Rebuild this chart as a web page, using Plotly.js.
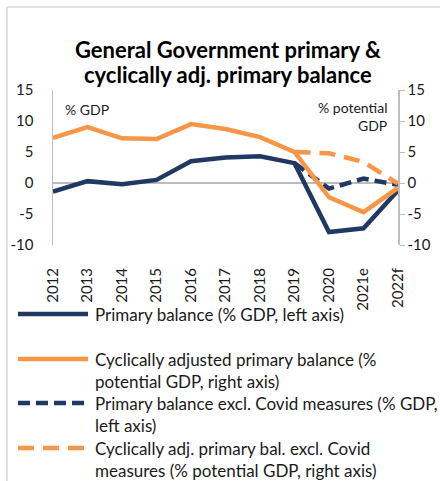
<!DOCTYPE html>
<html><head><meta charset="utf-8">
<script src="https://cdn.plot.ly/plotly-3.0.1.min.js"></script>
<style>html,body{margin:0;padding:0;background:#fff;overflow:hidden}#chart{width:440px;height:481px}</style>
</head><body><div id="chart"></div>
<script>
const years = ['2012','2013','2014','2015','2016','2017','2018','2019','2020','2021e','2022f'];
const primaryBalance = [-1.4, 0.3, -0.2, 0.5, 3.5, 4.1, 4.3, 3.2, -7.9, -7.3, -1.2];
const cycAdjPrimary = [7.3, 9.0, 7.2, 7.1, 9.5, 8.7, 7.4, 5.0, -2.3, -4.7, -0.8];
const primaryExclCovid = [null, null, null, null, null, null, null, 3.2, -0.9, 0.7, -0.3];
const cycAdjExclCovid = [null, null, null, null, null, null, null, 5.0, 4.8, 3.4, -0.1];
const yTickVals = [-10, -5, 0, 5, 10, 15];
const yTickText = ['-10', '-5', '0', '5', '10', '15'];
const titleLines = ['General Government primary &', 'cyclically adj. primary balance'];
const seriesNames = [
  ['Primary balance (% GDP, left axis)'],
  ['Cyclically adjusted primary balance (%', 'potential GDP, right axis)'],
  ['Primary balance excl. Covid measures (% GDP,', 'left axis)'],
  ['Cyclically adj. primary bal. excl. Covid', 'measures (% potential GDP, right axis)']
];

const NAVY = '#203864', ORANGE = '#F79646';
const FONT = 'Lato, "Open Sans", sans-serif';
const TXT = '#1a1a1a';
const W = 440, H = 481, ML = 53, MR = 42, MT = 90, MB = 236;
const PW = W - ML - MR, PH = H - MT - MB;
const px = x => (x - ML) / PW;
const py = y => (H - MB - y) / PH;

const traces = [
  {x: years, y: primaryBalance, type: 'scatter', mode: 'lines', yaxis: 'y', line: {color: NAVY, width: 4.5}, showlegend: false},
  {x: years, y: cycAdjPrimary, type: 'scatter', mode: 'lines', yaxis: 'y2', line: {color: ORANGE, width: 4.5}, showlegend: false},
  {x: years, y: primaryExclCovid, type: 'scatter', mode: 'lines', yaxis: 'y', line: {color: NAVY, width: 4.5, dash: '12px,6px'}, showlegend: false},
  {x: years, y: cycAdjExclCovid, type: 'scatter', mode: 'lines', yaxis: 'y2', line: {color: ORANGE, width: 4.5, dash: '16px,9px'}, showlegend: false}
];

const legStyles = [
  {color: NAVY, dash: 'solid'},
  {color: ORANGE, dash: 'solid'},
  {color: NAVY, dash: '12px,6px'},
  {color: ORANGE, dash: '16px,9px'}
];
const legY = [314, 359, 403, 448];
const shapes = [
  {type: 'line', xref: 'paper', yref: 'paper', x0: px(7), x1: px(7), y0: py(490), y1: py(7), line: {color: '#d9d9d9', width: 1.5}},
  {type: 'line', xref: 'paper', yref: 'paper', x0: px(7), x1: px(450), y0: py(7), y1: py(7), line: {color: '#d9d9d9', width: 1.5}},
  {type: 'line', xref: 'paper', yref: 'y', x0: 0, x1: 1, y0: 0, y1: 0, line: {color: '#a6a6a6', width: 1.5}, layer: 'below'}
];
const annotations = [
  {text: titleLines[0], xref: 'paper', yref: 'paper', x: px(228), y: py(49), xanchor: 'center', yanchor: 'middle', showarrow: false, font: {family: FONT, size: 22, color: '#000', weight: 'bold'}},
  {text: titleLines[1], xref: 'paper', yref: 'paper', x: px(228), y: py(74), xanchor: 'center', yanchor: 'middle', showarrow: false, font: {family: FONT, size: 22, color: '#000', weight: 'bold'}},
  {text: '% GDP', xref: 'paper', yref: 'paper', x: px(63), y: py(109), xanchor: 'left', yanchor: 'middle', showarrow: false, font: {family: FONT, size: 14, color: TXT}},
  {text: '% potential', xref: 'paper', yref: 'paper', x: px(389), y: py(107), xanchor: 'right', yanchor: 'middle', showarrow: false, font: {family: FONT, size: 14, color: TXT}},
  {text: 'GDP', xref: 'paper', yref: 'paper', x: px(389), y: py(125), xanchor: 'right', yanchor: 'middle', showarrow: false, font: {family: FONT, size: 14, color: TXT}}
];
seriesNames.forEach((lines, i) => {
  shapes.push({type: 'line', xref: 'paper', yref: 'paper', x0: px(18), x1: px(88), y0: py(legY[i]), y1: py(legY[i]), line: {color: legStyles[i].color, width: 4.5, dash: legStyles[i].dash}});
  lines.forEach((t, j) => {
    annotations.push({text: t, xref: 'paper', yref: 'paper', x: px(93), y: py(legY[i] + j * 22.5), xanchor: 'left', yanchor: 'middle', showarrow: false, font: {family: FONT, size: 17, color: TXT}});
  });
});

const yCommon = {range: [-10, 15], tickmode: 'array', tickvals: yTickVals, ticktext: yTickText, showgrid: false, zeroline: false, showline: true, linecolor: '#bfbfbf', linewidth: 1.5, ticks: 'outside', ticklen: 5, tickcolor: '#bfbfbf', tickfont: {family: FONT, size: 15, color: TXT}, fixedrange: true};

const layout = {
  width: W, height: H,
  margin: {l: ML, r: MR, t: MT, b: MB},
  paper_bgcolor: '#fff', plot_bgcolor: 'rgba(0,0,0,0)',
  showlegend: false,
  xaxis: {type: 'category', tickangle: -90, showgrid: false, zeroline: false, showline: false, ticks: 'outside', ticklen: 16, tickcolor: 'rgba(0,0,0,0)', tickfont: {family: FONT, size: 15, color: TXT}, fixedrange: true},
  yaxis: Object.assign({}, yCommon, {side: 'left', ticklen: 15, tickcolor: 'rgba(0,0,0,0)'}),
  yaxis2: Object.assign({}, yCommon, {side: 'right', overlaying: 'y'}),
  yaxis3: Object.assign({}, yCommon, {side: 'left', overlaying: 'y', showline: false, showticklabels: false}),
  shapes: shapes,
  annotations: annotations
};
Plotly.newPlot('chart', traces, layout, {displayModeBar: false, staticPlot: true});
</script></body></html>
